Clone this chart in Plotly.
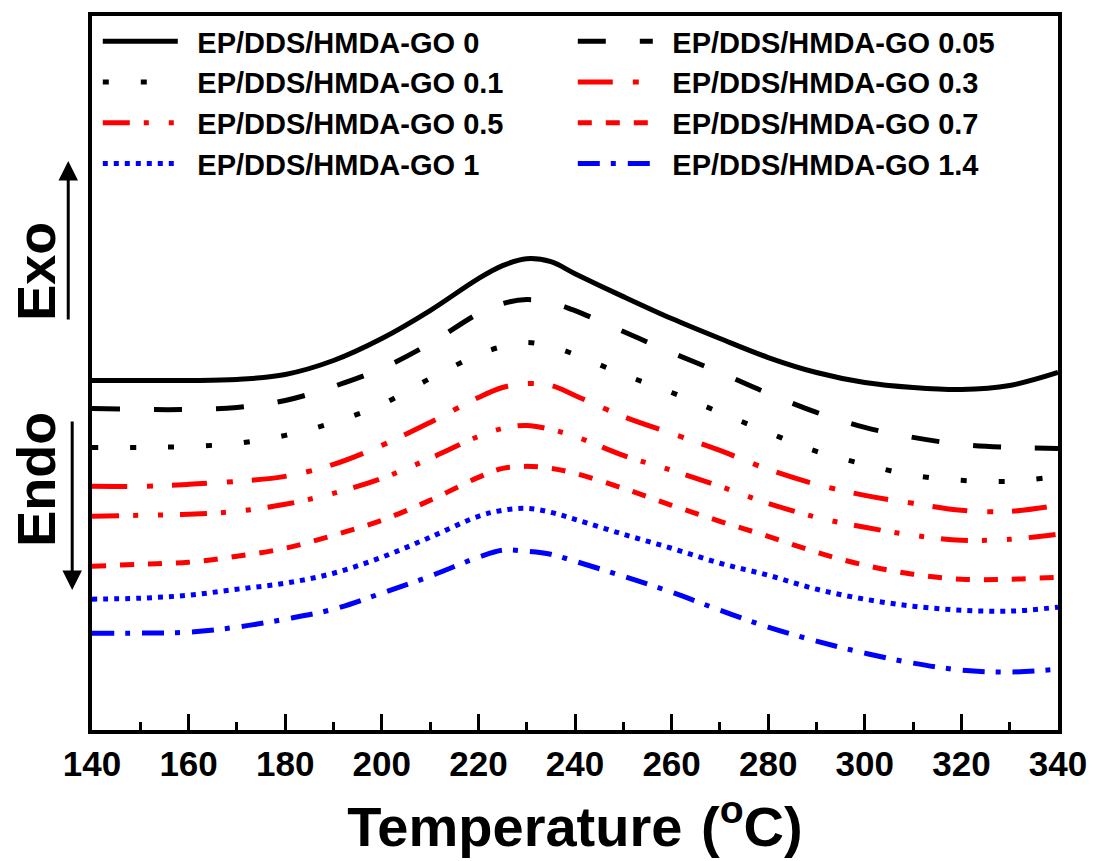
import plotly.graph_objects as go

# Temperature grid (°C)
temperature = [140, 150, 160, 170, 180, 190, 200, 210, 220, 225, 230, 235, 240,
               250, 260, 270, 280, 290, 300, 310, 320, 330, 340]

# Heat flow (arbitrary units, curves offset vertically, exo up)
hf_0 = [3.50, 3.50, 3.50, 3.51, 3.56, 3.70, 3.92, 4.20, 4.52, 4.65, 4.72, 4.69, 4.57,
        4.34, 4.12, 3.92, 3.73, 3.58, 3.48, 3.43, 3.41, 3.45, 3.58]
hf_005 = [3.22, 3.21, 3.21, 3.23, 3.30, 3.44, 3.62, 3.87, 4.17, 4.27, 4.31, 4.28, 4.20,
          3.99, 3.78, 3.58, 3.37, 3.18, 3.03, 2.93, 2.86, 2.83, 2.82]
hf_01 = [2.83, 2.83, 2.84, 2.87, 2.95, 3.08, 3.26, 3.52, 3.76, 3.84, 3.88, 3.84, 3.76,
         3.56, 3.38, 3.18, 2.98, 2.79, 2.66, 2.55, 2.50, 2.49, 2.54]
hf_03 = [2.44, 2.44, 2.46, 2.49, 2.54, 2.66, 2.85, 3.08, 3.33, 3.43, 3.47, 3.45, 3.35,
         3.14, 2.97, 2.80, 2.61, 2.46, 2.35, 2.27, 2.20, 2.19, 2.25]
hf_05 = [2.14, 2.15, 2.16, 2.19, 2.26, 2.37, 2.52, 2.72, 2.94, 3.02, 3.05, 3.01, 2.94,
         2.75, 2.60, 2.44, 2.27, 2.13, 2.03, 1.95, 1.90, 1.91, 1.96]
hf_07 = [1.64, 1.66, 1.68, 1.74, 1.82, 1.95, 2.10, 2.30, 2.53, 2.62, 2.64, 2.62, 2.57,
         2.42, 2.25, 2.09, 1.94, 1.78, 1.65, 1.56, 1.51, 1.51, 1.53]
hf_1 = [1.31, 1.32, 1.35, 1.41, 1.47, 1.57, 1.73, 1.93, 2.14, 2.20, 2.22, 2.18, 2.11,
        1.96, 1.82, 1.67, 1.55, 1.41, 1.31, 1.24, 1.20, 1.19, 1.23]
hf_14 = [0.97, 0.97, 0.98, 1.03, 1.11, 1.21, 1.37, 1.54, 1.73, 1.80, 1.79, 1.76, 1.69,
         1.54, 1.38, 1.20, 1.03, 0.89, 0.77, 0.67, 0.60, 0.58, 0.61]

series_names = ["EP/DDS/HMDA-GO 0", "EP/DDS/HMDA-GO 0.05", "EP/DDS/HMDA-GO 0.1",
                "EP/DDS/HMDA-GO 0.3", "EP/DDS/HMDA-GO 0.5", "EP/DDS/HMDA-GO 0.7",
                "EP/DDS/HMDA-GO 1", "EP/DDS/HMDA-GO 1.4"]
series_values = [hf_0, hf_005, hf_01, hf_03, hf_05, hf_07, hf_1, hf_14]
series_colors = ["#000000", "#000000", "#000000", "#ff0000", "#ff0000", "#ff0000",
                 "#0000ff", "#0000ff"]
series_dash = ["solid", "28px,34px", "6px,32px", "35px,20px,6px,19px",
               "27px,14px,5px,20px,5px,17px", "14px,14px", "5px,6px",
               "22px,11px,5px,12px"]

tick_vals = [140, 160, 180, 200, 220, 240, 260, 280, 300, 320, 340]

FONT = "Arial, Liberation Sans, Helvetica, sans-serif"

fig = go.Figure()
for name, vals, col, dash in zip(series_names, series_values, series_colors, series_dash):
    fig.add_trace(go.Scatter(
        x=temperature, y=vals, mode="lines", name="\u2002" + name,
        line=dict(color=col, width=5, dash=dash, shape="spline"),
    ))

fig.update_layout(
    width=1099, height=861,
    margin=dict(l=92, r=31, t=15, b=131),
    paper_bgcolor="white", plot_bgcolor="white",
    font=dict(family=FONT, color="black"),
    showlegend=True,
    legend=dict(
        orientation="h", x=0.006, y=1.0, xanchor="left", yanchor="top",
        entrywidth=385, entrywidthmode="pixels", itemwidth=75,
        font=dict(family=FONT, size=29, color="black", weight="bold"),
        bgcolor="rgba(0,0,0,0)", tracegroupgap=0,
    ),
    xaxis=dict(
        range=[140, 340], tickmode="array", tickvals=tick_vals,
        ticks="inside", ticklen=16, tickwidth=3, tickcolor="black",
        showline=True, linewidth=4, linecolor="black", mirror=True,
        showgrid=False, zeroline=False,
        tickfont=dict(family=FONT, size=35, color="black", weight="bold"),
        minor=dict(dtick=10, ticks="inside", ticklen=8, tickwidth=3, tickcolor="black"),
        title=dict(text="\u2002\u2009Temperature\u2006\u2006(<sup>o</sup>C)", standoff=26,
                   font=dict(family=FONT, size=56, color="black", weight="bold")),
    ),
    yaxis=dict(
        range=[0, 7.15], showticklabels=False, ticks="",
        showline=True, linewidth=4, linecolor="black", mirror=True,
        showgrid=False, zeroline=False,
    ),
)

# Exo / Endo labels with arrows
fig.add_annotation(x=-0.058, y=0.643, xref="paper", yref="paper", text="<b>Exo</b>",
                   textangle=-90, showarrow=False, xanchor="center", yanchor="middle",
                   font=dict(family=FONT, size=54, color="black"))
fig.add_annotation(x=-0.058, y=0.352, xref="paper", yref="paper", text="<b>Endo</b>",
                   textangle=-90, showarrow=False, xanchor="center", yanchor="middle",
                   font=dict(family=FONT, size=54, color="black"))
fig.add_annotation(x=-0.0246, y=0.797, xref="paper", yref="paper", text="",
                   showarrow=True, ax=0, ay=160, axref="pixel", ayref="pixel",
                   arrowhead=2, arrowsize=1.3, arrowwidth=3, arrowcolor="black")
fig.add_annotation(x=-0.0205, y=0.196, xref="paper", yref="paper", text="",
                   showarrow=True, ax=0, ay=-170, axref="pixel", ayref="pixel",
                   arrowhead=2, arrowsize=1.3, arrowwidth=3, arrowcolor="black")

fig.write_html("out.html", config={"displayModeBar": False},
               post_script="document.body.style.margin='0';")
